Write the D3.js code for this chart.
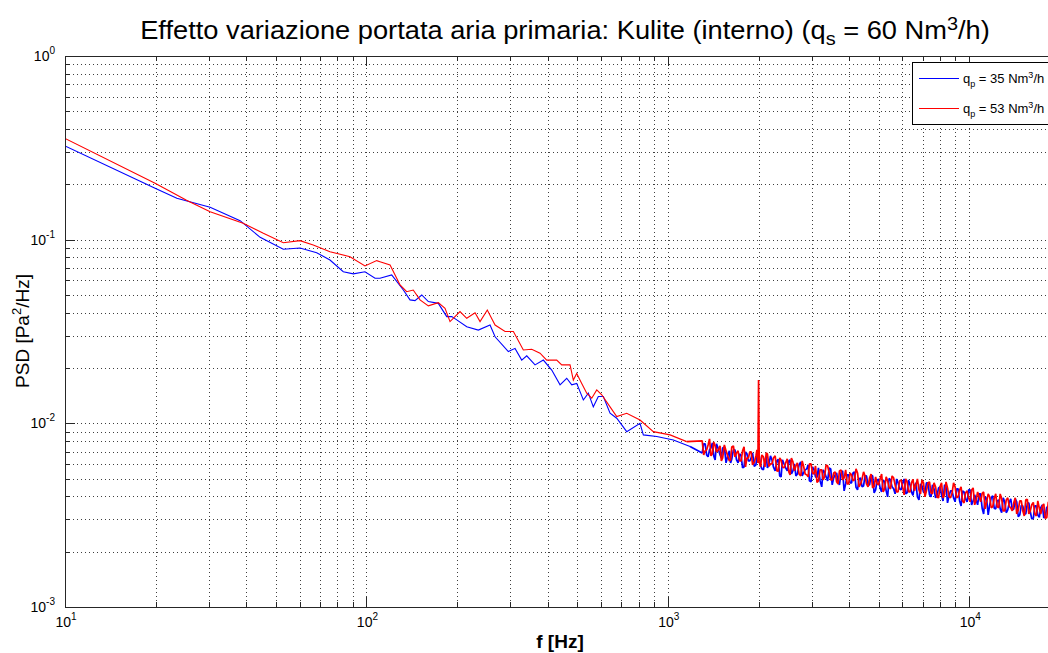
<!DOCTYPE html>
<html><head><meta charset="utf-8">
<script src="https://cdn.jsdelivr.net/npm/d3@7"></script>
<style>body{margin:0;background:#fff}svg{display:block}</style>
</head><body>
<svg id="c" width="1048" height="653"></svg>
<script>
// ---------- DATA ----------
const blueLowF = [10,19.9,23.5,30.3,38.1,44.4,53.0,60.2,68.4,75.7,83.8,90.5,98.9,106.8,110.9,121.3,132.6,139.5,144.9,152.6,160.5,173.2,184.7,191.9,199.4,215.2,235.1,257.1,267.2,295.7,311.2,327.5,340.3,362.6,386.4,411.9,438.9,461.9,479.9,498.5,524.4,544.8,565.9,588.0,610.9,643.1,676.8,730.5,808.5,829.3,918.8,1043,1185];
const blueLowP = [0.3236,0.1905,0.1680,0.1501,0.1269,0.1030,0.0887,0.0901,0.0849,0.0775,0.0669,0.0651,0.0669,0.0617,0.0617,0.0643,0.0532,0.0470,0.0466,0.0500,0.0460,0.0450,0.0381,0.0381,0.0366,0.0336,0.0322,0.0343,0.0296,0.0246,0.0256,0.0221,0.0233,0.0208,0.0221,0.0195,0.0162,0.0176,0.0162,0.0165,0.0134,0.0146,0.0123,0.0140,0.0140,0.01135,0.01066,0.00901,0.01001,0.00865,0.00847,0.00812,0.00747];
const redLowF = [10,19.9,25.3,30.3,39.0,45.5,53.0,60.2,66.6,75.7,88.2,98.9,108.2,110.9,119.8,129.3,136.0,143.0,150.6,160.5,173.2,182.3,189.4,204.4,215.2,229.3,238.2,251.8,267.2,288.4,307.3,331.6,353.5,376.7,396.4,427.9,444.6,473.7,485.8,498.5,518.0,538.2,559.2,580.9,603.6,643.1,676.8,730.5,808.5,895.2,1017,1155];
const redLowP = [0.356,0.203,0.164,0.142,0.1229,0.1083,0.0963,0.0988,0.0936,0.0860,0.0808,0.0719,0.0769,0.0759,0.0728,0.0567,0.0521,0.0532,0.0470,0.0436,0.0454,0.0423,0.0358,0.0406,0.0373,0.0400,0.0358,0.0414,0.0343,0.0316,0.0316,0.0251,0.0253,0.0241,0.0221,0.0221,0.0208,0.0208,0.0172,0.0187,0.0165,0.0146,0.0137,0.0152,0.0143,0.0123,0.01088,0.01135,0.01043,0.00901,0.00865,0.00795];

const hfFreq = [1300,1330,1360,1390,1420,1450,1490,1520,1560,1600,
 1630,1670,1710,1750,1790,1830,1870,1910,1960,1990,
 2000,2010,2050,2100,2140,2190,2240,2300,2350,2400,
 2460,2520,2570,2630,2690,2760,2820,2890,2950,3020,
 3090,3160,3240,3310,3390,3470,3550,3630,3710,3800,
 3890,3980,4070,4160,4260,4360,4460,4560,4670,4780,
 4890,5000,5120,5240,5360,5480,5610,5740,5870,6010,
 6150,6290,6430,6580,6730,6890,7050,7210,7380,7550,
 7730,7910,8090,8280,8470,8670,8870,9080,9290,9500,
 9720,9950,10180,10420,10660,10910,11160,11420,11690,11960,
 12240,12520,12810,13110,13420,13730,14050,14370,14710,15050,
 15400,15760,16120,16500,16880,17270,17670,18080,18500,18930,
 19370,19820];
const hfRed = [0.00802,0.00708,0.00763,0.00665,0.00792,0.00699,0.00754,0.00648,0.00708,0.00624,
 0.00744,0.00657,0.00708,0.00624,0.00744,0.00648,0.00699,0.00594,0.00665,0.00609,
 0.0172,0.00617,0.00673,0.00579,0.00682,0.00601,0.00648,0.00551,0.00648,0.00579,
 0.00609,0.00544,0.00648,0.00551,0.00609,0.00517,0.00586,0.00524,0.00601,0.00537,
 0.00586,0.00486,0.00558,0.00511,0.00586,0.00492,0.00537,0.00480,0.00551,0.00492,
 0.00558,0.00468,0.00524,0.00492,0.00537,0.00468,0.00544,0.00468,0.00505,0.00445,
 0.00511,0.00462,0.00530,0.00440,0.00486,0.00440,0.00505,0.00423,0.00486,0.00451,
 0.00498,0.00423,0.00474,0.00429,0.00498,0.00413,0.00474,0.00429,0.00480,0.00413,
 0.00451,0.00393,0.00474,0.00408,0.00445,0.00393,0.00474,0.00393,0.00434,0.00378,
 0.00418,0.00393,0.00434,0.00360,0.00423,0.00374,0.00423,0.00374,0.00398,0.00351,
 0.00413,0.00347,0.00388,0.00334,0.00393,0.00347,0.00369,0.00321,0.00378,0.00334,
 0.00383,0.00321,0.00360,0.00321,0.00378,0.00321,0.00364,0.00306,0.00351,0.00306,
 0.00347,0.00306];
const hfBlue = [0.00690,0.00773,0.00657,0.00735,0.00665,0.00773,0.00673,0.00735,0.00609,0.00708,
 0.00640,0.00717,0.00609,0.00665,0.00579,0.00682,0.00624,0.00690,0.00594,0.00657,
 0.00609,0.00665,0.00565,0.00632,0.00572,0.00665,0.00579,0.00624,0.00517,0.00632,
 0.00572,0.00624,0.00530,0.00601,0.00530,0.00617,0.00537,0.00565,0.00486,0.00579,
 0.00511,0.00572,0.00451,0.00544,0.00486,0.00565,0.00505,0.00537,0.00462,0.00551,
 0.00468,0.00524,0.00474,0.00544,0.00434,0.00505,0.00456,0.00517,0.00462,0.00517,
 0.00434,0.00498,0.00423,0.00480,0.00398,0.00492,0.00440,0.00498,0.00440,0.00474,
 0.00413,0.00492,0.00423,0.00456,0.00398,0.00468,0.00423,0.00474,0.00408,0.00462,
 0.00393,0.00445,0.00408,0.00462,0.00369,0.00429,0.00393,0.00440,0.00378,0.00429,
 0.00388,0.00434,0.00360,0.00408,0.00360,0.00413,0.00321,0.00388,0.00360,0.00403,
 0.00342,0.00383,0.00326,0.00374,0.00338,0.00388,0.00342,0.00374,0.00317,0.00355,
 0.00321,0.00369,0.00302,0.00355,0.00317,0.00347,0.00306,0.00351,0.00313,0.00334,
 0.00287,0.00334];

// in-between spectral lines (denser sampling of the noisy high-frequency band)
const hfFreq2 = [1315,1345,1375,1405,1435,1470,1505,1540,1580,1615,
 1650,1690,1730,1770,1810,1850,1890,1935,1975,2030,
 2075,2120,2165,2215,2270,2325,2375,2430,2490,2545,
 2600,2660,2725,2790,2855,2920,2985,3055,3125,3200,
 3275,3350,3430,3510,3590,3670,3755,3845,3935,4025,
 4115,4210,4310,4410,4510,4615,4725,4835,4945,5060,
 5180,5300,5420,5545,5675,5805,5940,6080,6220,6360,
 6505,6655,6810,6970,7130,7295,7465,7640,7820,8000,
 8185,8375,8570,8770,8975,9185,9395,9610,9835,10065,
 10300,10540,10785,11035,11290,11555,11825,12100,12380,12665,
 12960,13265,13575,13890,14210,14540,14880,15225,15580,15940,
 16310,16690,17075,17470,17875,18290,18715,19150,19595];
const hfRed2 = [0.00673,0.00717,0.00823,0.00682,0.00754,0.00717,0.00624,0.00763,0.00665,0.00632,
 0.00754,0.00690,0.00624,0.00708,0.00579,0.00648,0.00699,0.00613,0.00717,0.00579,
 0.00657,0.00690,0.00583,0.00601,0.00665,0.00548,0.00632,0.00572,0.00640,0.00524,
 0.00617,0.00586,0.00530,0.00624,0.00530,0.00511,0.00601,0.00530,0.00477,0.00558,
 0.00492,0.00594,0.00537,0.00492,0.00544,0.00468,0.00558,0.00505,0.00468,0.00537,
 0.00486,0.00565,0.00451,0.00498,0.00517,0.00451,0.00530,0.00453,0.00468,0.00498,
 0.00423,0.00511,0.00448,0.00517,0.00462,0.00423,0.00492,0.00408,0.00480,0.00423,
 0.00495,0.00462,0.00434,0.00492,0.00398,0.00474,0.00418,0.00474,0.00396,0.00451,
 0.00393,0.00480,0.00398,0.00418,0.00451,0.00398,0.00451,0.00369,0.00429,0.00374,
 0.00445,0.00383,0.00398,0.00416,0.00342,0.00413,0.00347,0.00390,0.00351,0.00413,
 0.00334,0.00383,0.00353,0.00334,0.00393,0.00338,0.00378,0.00313,0.00386,0.00334,
 0.00371,0.00313,0.00345,0.00355,0.00304,0.00374,0.00310,0.00340,0.00302];
const hfBlue2 = [0.00773,0.00673,0.00717,0.00782,0.00632,0.00726,0.00648,0.00744,0.00665,0.00609,
 0.00717,0.00632,0.00682,0.00572,0.00699,0.00624,0.00648,0.00583,0.00673,0.00594,
 0.00558,0.00665,0.00598,0.00632,0.00551,0.00636,0.00511,0.00601,0.00551,0.00632,
 0.00551,0.00517,0.00594,0.00517,0.00558,0.00594,0.00480,0.00558,0.00508,0.00486,
 0.00558,0.00511,0.00572,0.00462,0.00524,0.00480,0.00537,0.00429,0.00524,0.00474,
 0.00537,0.00448,0.00498,0.00451,0.00517,0.00462,0.00524,0.00418,0.00486,0.00445,
 0.00492,0.00429,0.00501,0.00451,0.00413,0.00474,0.00434,0.00498,0.00418,0.00462,
 0.00405,0.00474,0.00383,0.00456,0.00418,0.00474,0.00398,0.00440,0.00405,0.00451,
 0.00378,0.00456,0.00403,0.00429,0.00374,0.00440,0.00355,0.00423,0.00374,0.00434,
 0.00378,0.00383,0.00413,0.00345,0.00398,0.00317,0.00393,0.00345,0.00378,0.00342,
 0.00393,0.00326,0.00371,0.00338,0.00388,0.00310,0.00358,0.00321,0.00366,0.00330,
 0.00304,0.00355,0.00308,0.00360,0.00311,0.00342,0.00280,0.00344,0.00306];

const seriesNames = ["35", "53"];          // q_p values, Nm^3/h
const seriesColors = ["#0000ff", "#ff0000"];
const xTickExps = [1, 2, 3, 4];
const yTickExps = [-3, -2, -1, 0];
const titleMain = "Effetto variazione portata aria primaria: Kulite (interno) (q";
const titleSub = "s";
const titleRest = " = 60 Nm";
const titleSup = "3";
const titleTail = "/h)";
const xLabel = "f [Hz]";

// ---------- CHART ----------
const FONT = "'Liberation Sans', Arial, Helvetica, sans-serif";
const svg = d3.select("#c");
svg.append("rect").attr("width", 1048).attr("height", 653).attr("fill", "#fff");

const L = 65, R = 1060, T = 56, B = 607;
const x = d3.scaleLog().domain([10, 20000]).range([L, R]);
const y = d3.scaleLog().domain([1e-3, 1]).range([B, T]);
const isMajor = v => Math.abs(Math.log10(v) - Math.round(Math.log10(v))) < 1e-9;

const xt = x.ticks(), yt = y.ticks();

// grid
const grid = svg.append("g").attr("stroke", "#000").attr("stroke-width", 1)
  .attr("stroke-dasharray", "1,3").attr("shape-rendering", "crispEdges").attr("opacity", 0.75);
xt.filter(v => x(v) > L + 1).forEach(v => {
  grid.append("line").attr("x1", Math.round(x(v)) + 0.5).attr("x2", Math.round(x(v)) + 0.5)
    .attr("y1", T).attr("y2", B);
});
yt.filter(v => y(v) > T + 1 && y(v) < B - 1).forEach(v => {
  grid.append("line").attr("y1", Math.round(y(v)) + 0.5).attr("y2", Math.round(y(v)) + 0.5)
    .attr("x1", L).attr("x2", R);
});

// data
svg.append("clipPath").attr("id", "pc").append("rect")
  .attr("x", L).attr("y", T).attr("width", R - L).attr("height", B - T);
const line = d3.line().x(d => x(d[0])).y(d => y(d[1]));
const byF = (a, b) => a[0] - b[0];
const blueLow = blueLowF.map((f, i) => [f, blueLowP[i]]);
const redLow = redLowF.map((f, i) => [f, redLowP[i]]);
const blueHF = [blueLow[blueLow.length - 1]].concat(
  hfFreq.map((f, i) => [f, hfBlue[i]]).concat(hfFreq2.map((f, i) => [f, hfBlue2[i]])).sort(byF));
const redHF = [redLow[redLow.length - 1]].concat(
  hfFreq.map((f, i) => [f, hfRed[i]]).concat(hfFreq2.map((f, i) => [f, hfRed2[i]])).sort(byF));
[[blueLow, blueHF], [redLow, redHF]].forEach((parts, i) => {
  svg.append("path").attr("clip-path", "url(#pc)").attr("d", line(parts[0]))
    .attr("fill", "none").attr("stroke", seriesColors[i]).attr("stroke-width", 1.1);
  svg.append("path").attr("clip-path", "url(#pc)").attr("d", line(parts[1]))
    .attr("fill", "none").attr("stroke", seriesColors[i]).attr("stroke-width", 1.7)
    .attr("stroke-linejoin", "bevel");
});

// axes box & ticks
const ax = svg.append("g").attr("stroke", "#262626").attr("stroke-width", 1).attr("shape-rendering", "crispEdges");
ax.append("line").attr("x1", L).attr("x2", R).attr("y1", B + 0.5).attr("y2", B + 0.5);
ax.append("line").attr("x1", L).attr("x2", R).attr("y1", T + 0.5).attr("y2", T + 0.5);
ax.append("line").attr("x1", L + 0.5).attr("x2", L + 0.5).attr("y1", T).attr("y2", B);
xt.forEach(v => {
  const len = isMajor(v) ? 10 : 5, px = Math.round(x(v)) + 0.5;
  ax.append("line").attr("x1", px).attr("x2", px).attr("y1", B).attr("y2", B - len);
  ax.append("line").attr("x1", px).attr("x2", px).attr("y1", T).attr("y2", T + len);
});
yt.forEach(v => {
  const len = isMajor(v) ? 10 : 5, py = Math.round(y(v)) + 0.5;
  ax.append("line").attr("x1", L).attr("x2", L + len).attr("y1", py).attr("y2", py);
});

// tick labels
xTickExps.forEach(e => {
  const t = svg.append("text").attr("x", x(Math.pow(10, e)) + 1).attr("y", 627)
    .attr("text-anchor", "middle").attr("font-family", FONT).attr("font-size", 14).attr("fill", "#000");
  t.append("tspan").text("10");
  t.append("tspan").attr("font-size", 10).attr("dy", -7).text(e);
});
yTickExps.forEach(e => {
  const t = svg.append("text").attr("x", 55).attr("y", y(Math.pow(10, e)) + 5)
    .attr("text-anchor", "end").attr("font-family", FONT).attr("font-size", 14).attr("fill", "#000");
  t.append("tspan").text("10");
  t.append("tspan").attr("font-size", 10).attr("dy", -7).text(e);
});

// axis labels
svg.append("text").attr("x", 560).attr("y", 648).attr("text-anchor", "middle")
  .attr("font-family", FONT).attr("font-size", 19).attr("font-weight", "bold").attr("fill", "#000").text(xLabel);
const yl = svg.append("text").attr("transform", "translate(29,331) rotate(-90)").attr("text-anchor", "middle")
  .attr("font-family", FONT).attr("font-size", 19).attr("fill", "#000");
yl.append("tspan").text("PSD [Pa");
yl.append("tspan").attr("font-size", 13).attr("dy", -8).text("2");
yl.append("tspan").attr("dy", 8).text("/Hz]");

// title
const tg = svg.append("g");
const tt = tg.append("text").attr("x", 0).attr("y", 0).attr("text-anchor", "middle")
  .attr("font-family", FONT).attr("font-size", 26).attr("fill", "#000");
tt.append("tspan").text(titleMain);
tt.append("tspan").attr("font-size", 19).attr("dy", 6).text(titleSub);
tt.append("tspan").attr("dy", -6).text(titleRest);
tt.append("tspan").attr("font-size", 19).attr("dy", -9).text(titleSup);
tt.append("tspan").attr("dy", 9).text(titleTail);
const bb = tt.node().getBBox();
const sx = 850 / bb.width;
tg.attr("transform", `translate(${565 - (bb.x + bb.width / 2) * sx},39) scale(${sx},1)`);

// legend
const lg = svg.append("g");
lg.append("rect").attr("x", 912.5).attr("y", 62.5).attr("width", 160).attr("height", 62)
  .attr("fill", "#fff").attr("stroke", "#000").attr("stroke-width", 1).attr("shape-rendering", "crispEdges");
seriesNames.forEach((n, i) => {
  const cy = 78 + i * 30;
  lg.append("line").attr("x1", 919).attr("x2", 959).attr("y1", cy + 0.5).attr("y2", cy + 0.5)
    .attr("stroke", seriesColors[i]).attr("stroke-width", 1);
  const t = lg.append("text").attr("x", 963).attr("y", cy + 5).attr("font-family", FONT)
    .attr("font-size", 13).attr("fill", "#000");
  t.append("tspan").text("q");
  t.append("tspan").attr("font-size", 9).attr("dy", 4).text("p");
  t.append("tspan").attr("dy", -4).text(" = " + n + " Nm");
  t.append("tspan").attr("font-size", 9).attr("dy", -5).text("3");
  t.append("tspan").attr("dy", 5).text("/h");
});
</script>
</body></html>
